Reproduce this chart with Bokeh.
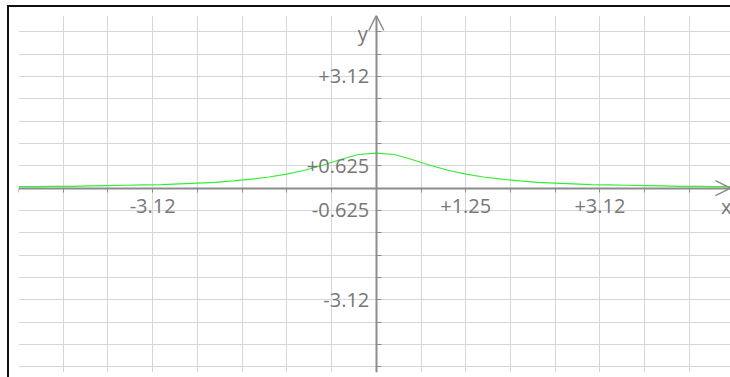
from bokeh.plotting import figure
from bokeh.models import Range1d, LinearAxis, FixedTicker, Arrow, OpenHead, Label
from bokeh.embed import file_html
from bokeh.resources import INLINE

# ---- data ----
curve_x = [-5.0, -4.75, -4.5, -4.25, -4.0, -3.75, -3.5, -3.25, -3.0, -2.75, -2.5,
           -2.25, -2.0, -1.75, -1.5, -1.25, -1.0, -0.75, -0.5, -0.25, 0.0,
           0.25, 0.5, 0.75, 1.0, 1.25, 1.5, 1.75, 2.0, 2.25, 2.5,
           2.75, 3.0, 3.25, 3.5, 3.75, 4.0, 4.25, 4.5, 4.75, 5.0]
curve_y = [0.04, 0.04, 0.05, 0.05, 0.06, 0.07, 0.08, 0.09, 0.10, 0.12, 0.14,
           0.16, 0.20, 0.25, 0.31, 0.39, 0.50, 0.64, 0.80, 0.94, 0.98,
           0.94, 0.80, 0.64, 0.50, 0.39, 0.31, 0.25, 0.20, 0.16, 0.14,
           0.12, 0.10, 0.09, 0.08, 0.07, 0.06, 0.05, 0.05, 0.04, 0.04]

x_label_ticks = [-3.125, 1.25, 3.125]
x_label_texts = ["-3.12", "+1.25", "+3.12"]
y_label_ticks = [3.125, 0.625, -0.625, -3.125]
y_label_texts = ["+3.12", "+0.625", "-0.625", "-3.12"]
grid_step = 0.625
grid_ticks = [k * grid_step for k in range(-8, 9)]

# ---- styling ----
FONT = "Open Sans"
TEXT_COLOR = "#777777"
AXIS_COLOR = "#8c8c8c"
GRID_COLOR = "#d6d6d6"
CURVE_COLOR = "#33ee33"

p = figure(width=721, height=370,
           x_range=Range1d(-5.0, 4.95), y_range=Range1d(-5.16, 4.83),
           output_backend="svg", toolbar_location=None,
           x_axis_location=None, y_axis_location=None,
           min_border_left=9, min_border_right=0,
           min_border_top=8, min_border_bottom=5)
p.outline_line_color = None
p.background_fill_color = "white"
p.border_fill_color = "white"
p.styles = {"position": "relative", "left": "9px", "top": "7px",
            "outline": "2px solid #111111"}

p.xgrid.ticker = FixedTicker(ticks=grid_ticks)
p.ygrid.ticker = FixedTicker(ticks=grid_ticks)
for g in (p.xgrid, p.ygrid):
    g.grid_line_color = GRID_COLOR
    g.grid_line_width = 1

x_over = {t: "" for t in grid_ticks}
x_over.update(dict(zip(x_label_ticks, x_label_texts)))
y_over = {t: "" for t in grid_ticks}
y_over.update(dict(zip(y_label_ticks, y_label_texts)))

common = dict(axis_line_color=AXIS_COLOR, axis_line_width=2,
              major_tick_line_color=AXIS_COLOR, major_tick_line_width=1,
              minor_tick_in=0, minor_tick_out=0,
              major_label_text_font=FONT, major_label_text_font_size="20px",
              major_label_text_color=TEXT_COLOR)

xaxis = LinearAxis(fixed_location=0, ticker=FixedTicker(ticks=grid_ticks, minor_ticks=[]),
                   major_label_overrides=x_over, major_tick_out=4, major_tick_in=0,
                   major_label_standoff=7, **common)
p.add_layout(xaxis, "below")

yaxis = LinearAxis(fixed_location=0, ticker=FixedTicker(ticks=grid_ticks, minor_ticks=[]),
                   major_label_overrides=y_over, major_tick_out=0, major_tick_in=5,
                   major_label_standoff=7, **common)
p.add_layout(yaxis, "left")

p.line(curve_x, curve_y, line_color=CURVE_COLOR, line_width=1.2)

p.add_layout(Arrow(end=OpenHead(size=15, line_color=AXIS_COLOR, line_width=1.5),
                   x_start=0, y_start=0, x_end=0, y_end=4.83, line_alpha=0))
p.add_layout(Arrow(end=OpenHead(size=15, line_color=AXIS_COLOR, line_width=1.5),
                   x_start=0, y_start=0, x_end=4.95, y_end=0, line_alpha=0))

p.add_layout(Label(x=4.89, y=-0.51, text="x", text_align="center", text_baseline="alphabetic",
                   text_font=FONT, text_font_size="20px", text_color=TEXT_COLOR))
p.add_layout(Label(x=-0.19, y=4.34, text="y", text_align="center", text_baseline="alphabetic",
                   text_font=FONT, text_font_size="20px", text_color=TEXT_COLOR))

open("out.html", "w").write(file_html(p, INLINE))
